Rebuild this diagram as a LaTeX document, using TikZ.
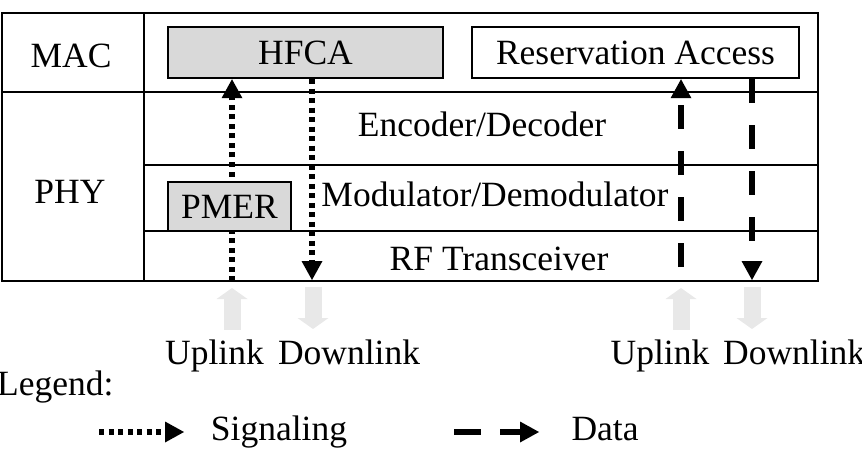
\documentclass[tikz,border=0pt]{standalone}
\usepackage{fontspec}
\setmainfont{Liberation Serif}
\usetikzlibrary{arrows.meta}
\begin{document}
\begin{tikzpicture}[x=1pt,y=-1pt,
	every node/.style={font=\fontsize{35.5}{40}\selectfont, inner sep=0pt},
	layerline/.style={line width=2pt},
	blockbox/.style={draw, line width=2.5pt, minimum width=#1, minimum height=51pt},
	signal/.style={line width=5.5pt, dash pattern=on 5pt off 4.5pt, -{Triangle[length=19pt,width=21pt,line width=0pt]}},
	data/.style={line width=6.5pt, dash pattern=on 24pt off 22pt, -{Triangle[length=19pt,width=21pt,line width=0pt]}},
	link/.style={line width=17pt, color=\LINKCOLOR, -{Triangle[length=11pt,width=31pt,line width=0pt]}}]
    
\def\BLOCKFILL{gray!30}
\def\LINKCOLOR{gray!18}
	\useasboundingbox (0,0) rectangle (862,468);
	\draw[layerline] (2,13) rectangle (818,281);
	\draw[layerline] (144,13) -- (144,281);
	\draw[layerline] (2,92) -- (818,92);
	\draw[layerline] (144,165) -- (818,165);
	\draw[layerline] (144,231) -- (818,231);

	\node[anchor=base] (mac) at (71,68) {MAC};
	\node[anchor=base] (phy) at (70,203) {PHY};
	\node[blockbox=275pt, fill=\BLOCKFILL] (hfca) at (305.5,52.5) {HFCA};
	\node[blockbox=327pt] (resv) at (635.5,52.5) {Reservation Access};
	\node[anchor=base] (codec) at (482,137) {Encoder/Decoder};
	\node[anchor=base] (modem) at (495,206) {Modulator/Demodulator};
	\node[anchor=base] (rf) at (499,270) {RF Transceiver};

	\coordinate (sigup) at (232,281);
	\coordinate (sigdown) at (312,280);
	\coordinate (dataup) at (681,267);
	\coordinate (datadown) at (752,280);
	\draw[signal] (sigup) -- (sigup |- hfca.south);
	\draw[signal] (hfca.south -| sigdown) -- (sigdown);
	\draw[data] (dataup) -- (dataup |- resv.south);
	\draw[data] (resv.south -| datadown) -- (datadown);

	\node[blockbox=123pt, minimum height=49pt, fill=\BLOCKFILL] (pmer) at (229.5,206.5) {PMER};

	\coordinate (ulsig) at (232,330);
	\coordinate (dlsig) at (313,287);
	\coordinate (uldata) at (681,330);
	\coordinate (dldata) at (752,287);
	\draw[link] (ulsig) -- ++(0,-42);
	\draw[link] (dlsig) -- ++(0,42);
	\draw[link] (uldata) -- ++(0,-42);
	\draw[link] (dldata) -- ++(0,42);

	\node[anchor=base] (ulsigtxt) at (214.5,364) {Uplink};
	\node[anchor=base] (dlsigtxt) at (349,364) {Downlink};
	\node[anchor=base] (uldatatxt) at (660,364) {Uplink};
	\node[anchor=base west] (dldatatxt) at (723,364) {Downlink};

	\node[anchor=base west] (legend) at (-3,395) {Legend:};
	\coordinate (sigkeyA) at (99,432);
	\coordinate (sigkeyB) at (184,432);
	\draw[signal] (sigkeyA) -- (sigkeyB);
	\node[anchor=base] (sigkey) at (279,440) {Signaling};
	\coordinate (datakeyA) at (454,432);
	\coordinate (datakeyB) at (539,432);
	\draw[data, dash pattern=on 27pt off 19pt] (datakeyA) -- (datakeyB);
	\node[anchor=base] (datakey) at (605,440) {Data};

          \end{tikzpicture}
\end{document}
